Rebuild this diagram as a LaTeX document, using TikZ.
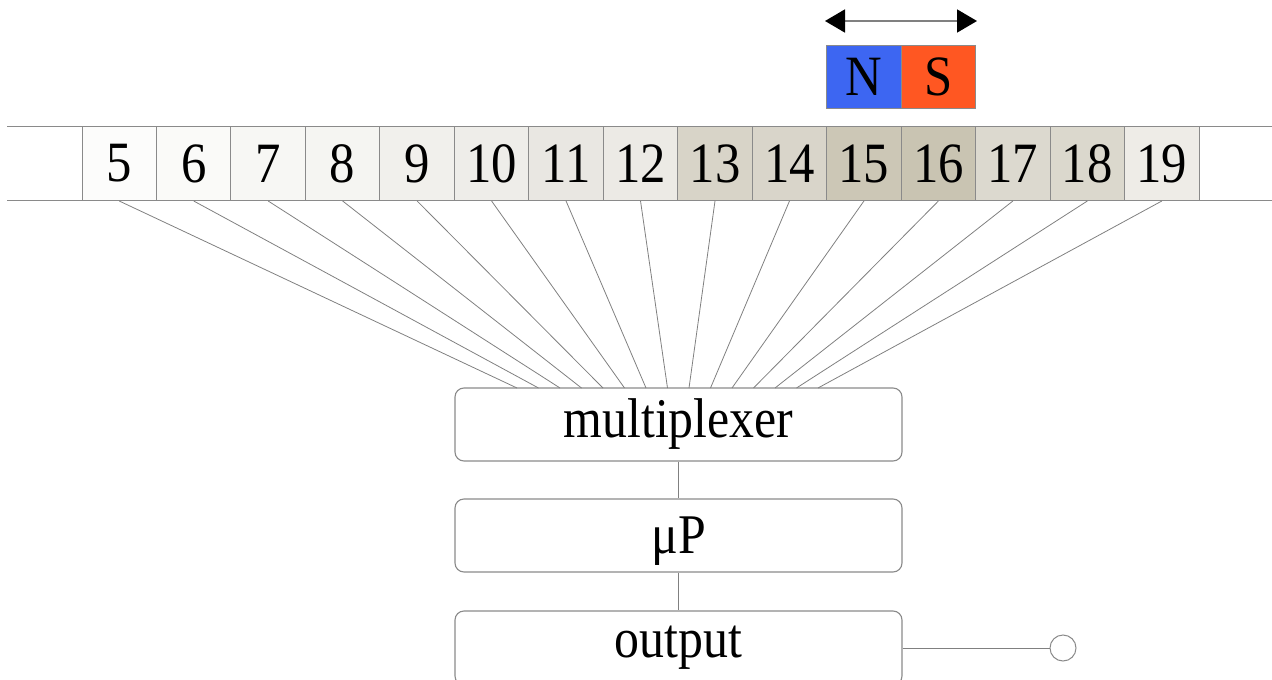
\documentclass[tikz,border=0pt]{standalone}
\usepackage{fontspec}
\setmainfont{Liberation Serif}[FakeStretch=0.89]
\usetikzlibrary{arrows.meta,calc}
\definecolor{linegray}{HTML}{808080}
\definecolor{boxgray}{HTML}{8A8A8A}
\definecolor{nblue}{HTML}{3D66F2}
\definecolor{sorange}{HTML}{FF5722}
\tikzset{
  cellbox/.style={draw=boxgray, line width=1pt, minimum width=74.47pt, minimum height=74pt, inner sep=0pt, font=\fontsize{57}{60}\selectfont},
  magbox/.style={draw=boxgray, line width=0.8pt, minimum width=74.5pt, minimum height=63pt, inner sep=0pt, font=\fontsize{57}{60}\selectfont},
  procbox/.style={draw=boxgray, line width=1.1pt, rounded corners=9pt, minimum width=447pt, minimum height=73pt, inner sep=0pt, font=\fontsize{56}{60}\selectfont},
  wire/.style={draw=linegray, line width=0.8pt},
  stripline/.style={draw=boxgray, line width=1pt}
}
\begin{document}
\begin{tikzpicture}[x=1pt,y=-1pt]
\useasboundingbox (0,0) rectangle (1272,680);
% strip edges
\coordinate (tl) at (7,126.5);
\coordinate (tr) at (1272,126.5);
\coordinate (bl) at (7,200.5);
\coordinate (br) at (1272,200.5);
\draw[stripline] (tl) -- (tr);
\draw[stripline] (bl) -- (br);
% cells
\foreach \n/\c [count=\i from 0] in {5/FCFCFB,6/FAFAF8,7/F7F7F4,8/F5F5F2,9/F1F0EC,10/EEEDE9,11/E9E7E2,12/ECEAE5,13/D8D4C8,14/D9D5CA,15/CCC7B6,16/C9C4B2,17/DCD9CF,18/DBD8CD,19/EEECE7}{
  \definecolor{cell\n}{HTML}{\c}
  \node[cellbox, fill=cell\n] (c\n) at (82+74.47*\i+37.235, 163.5) {\n};
}
% magnet
\node[magbox, fill=nblue] (N) at (864, 76.5) {N};
\node[magbox, fill=sorange] (S) at (938.5, 76.5) {S};
\coordinate (aL) at (825,21);
\coordinate (aR) at (977,21);
\draw[draw=linegray, line width=1.8pt, {Triangle[length=20pt,width=23pt,black]}-{Triangle[length=20pt,width=23pt,black]}] (aL) -- (aR);
% processing boxes
\node[procbox] (mux) at (678.5, 424.5) {multiplexer};
\node[procbox, text depth=0pt] (up) at (678.5, 535.5) {μP};
\node[procbox, minimum height=74pt] (out) at (678.5, 648) {output};
\node[draw=boxgray, line width=1pt, circle, minimum size=26pt, inner sep=0pt] (term) at (1063, 648) {};
% fan lines
\foreach \n [count=\i from 0] in {5,...,19}{
  \coordinate (m\n) at (517+21.5*\i, 388);
  \draw[wire] (c\n.south) -- (m\n);
}
\draw[wire] (mux.south) -- (up.north);
\draw[wire] (up.south) -- (out.north);
\draw[wire] (out.east) -- (term.west);
\end{tikzpicture}
\end{document}
